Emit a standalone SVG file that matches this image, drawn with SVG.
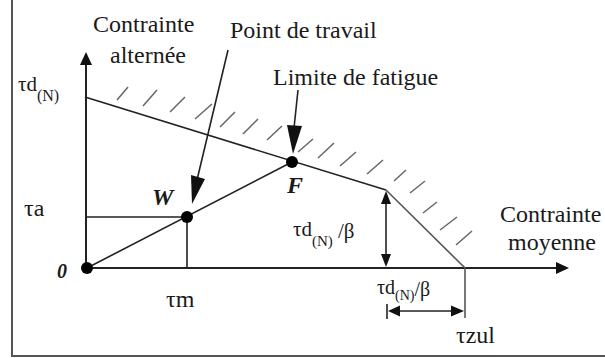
<svg xmlns="http://www.w3.org/2000/svg" width="605" height="358" viewBox="0 0 605 358" font-family="'Liberation Serif', 'DejaVu Serif', 'Times New Roman', serif">
<style>
text{font-family:'Liberation Serif','DejaVu Serif','Times New Roman',serif;fill:#1a1a1a}
.lbl{font-size:24px}
.sm{font-size:21px}
.bi{font-weight:bold;font-style:italic}
.ln{stroke:#222;stroke-width:1.6;fill:none}
.ax{stroke:#222;stroke-width:2;fill:none}
.ht{stroke:#666;stroke-width:1.5;fill:none}
.ah{fill:#111}
.dot{fill:#000}
</style>
<rect width="605" height="358" fill="#fff"/>
<g id="frame">
<path d="M12 0V356H605" stroke="#555" stroke-width="2" fill="none"/>
</g>
<g id="connectors">
<line class="ax" x1="86" y1="268" x2="86" y2="62"/>
<polygon class="ah" points="86,52 80,65 92,65"/>
<line class="ax" x1="86" y1="268" x2="558" y2="268"/>
<polygon class="ah" points="569,268 556,262 556,274"/>
<polyline class="ln" points="85,97 386,190"/>
<line x1="386" y1="190" x2="465" y2="268" stroke="#555" stroke-width="1.6"/>
<line class="ln" x1="87" y1="268" x2="292" y2="162"/>
<polyline class="ln" points="86,217 187,217 187,268"/>
<line class="ln" x1="228" y1="50" x2="197" y2="180"/>
<polygon class="ah" points="205,179 191,175 192,204"/>
<line class="ln" x1="298" y1="90" x2="294" y2="128"/>
<polygon class="ah" points="287,125 302,126 293,154"/>
<line class="ln" x1="386" y1="200" x2="386" y2="258"/>
<polygon class="ah" points="386,191 381,204 391,204"/>
<polygon class="ah" points="386,267 381,254 391,254"/>
<line x1="465" y1="268" x2="465" y2="318" stroke="#555" stroke-width="1.6"/>
<line class="ln" x1="398" y1="311" x2="452" y2="311"/>
<line class="ln" x1="387" y1="304" x2="387" y2="319"/>
<polygon class="ah" points="388,311 400,305.5 400,316.5"/>
<polygon class="ah" points="464,311 451,305.5 451,316.5"/>
</g>
<g id="hatching">
<path class="ht" d="M117 100L128 87M143 106L157 90M170 112L185 97M195 119L212 104M220 127L235 112M243 134L258 119M267 140L282 126M298 152L313 139M318 158L334 143M340 166L356 152M367 174L383 160M394 181L406 170M410 193L425 181M423 213L437 202M440 230L457 217M456 245L472 231"/>
</g>
<g id="origin">
<circle class="dot" cx="87" cy="268" r="6"/>
<text class="bi" x="57" y="278" font-size="20">0</text>
</g>
<g id="W">
<circle class="dot" cx="187" cy="217" r="6"/>
<text class="bi lbl" x="152" y="205">W</text>
</g>
<g id="F">
<circle class="dot" cx="292" cy="162" r="6"/>
<text class="bi lbl" x="287" y="193">F</text>
</g>
<g id="label-alternee">
<text class="lbl" x="93" y="32">Contrainte</text>
<text class="lbl" x="110" y="63">alternée</text>
</g>
<g id="label-point">
<text class="lbl" x="230" y="38">Point de travail</text>
</g>
<g id="label-limite">
<text class="lbl" x="273" y="85">Limite de fatigue</text>
</g>
<g id="label-moyenne">
<text class="lbl" x="500" y="222">Contrainte</text>
<text class="lbl" x="508" y="250">moyenne</text>
</g>
<g id="label-tdN">
<text class="sm" x="18" y="91">τd<tspan font-size="16" dy="10">(N)</tspan></text>
</g>
<g id="label-ta"><text class="lbl" x="24" y="216">τa</text></g>
<g id="label-tm"><text class="lbl" x="166" y="307">τm</text></g>
<g id="label-tzul"><text class="lbl" x="456" y="343">τzul</text></g>
<g id="label-tdN-beta-v">
<text class="sm" x="293" y="236">τd<tspan font-size="15" dy="10">(N)</tspan><tspan dy="-8"> /β</tspan></text>
</g>
<g id="label-tdN-beta-h">
<text font-size="20" x="377" y="294">τd<tspan font-size="14" dy="6">(N)</tspan><tspan dy="-4">/β</tspan></text>
</g>
</svg>
